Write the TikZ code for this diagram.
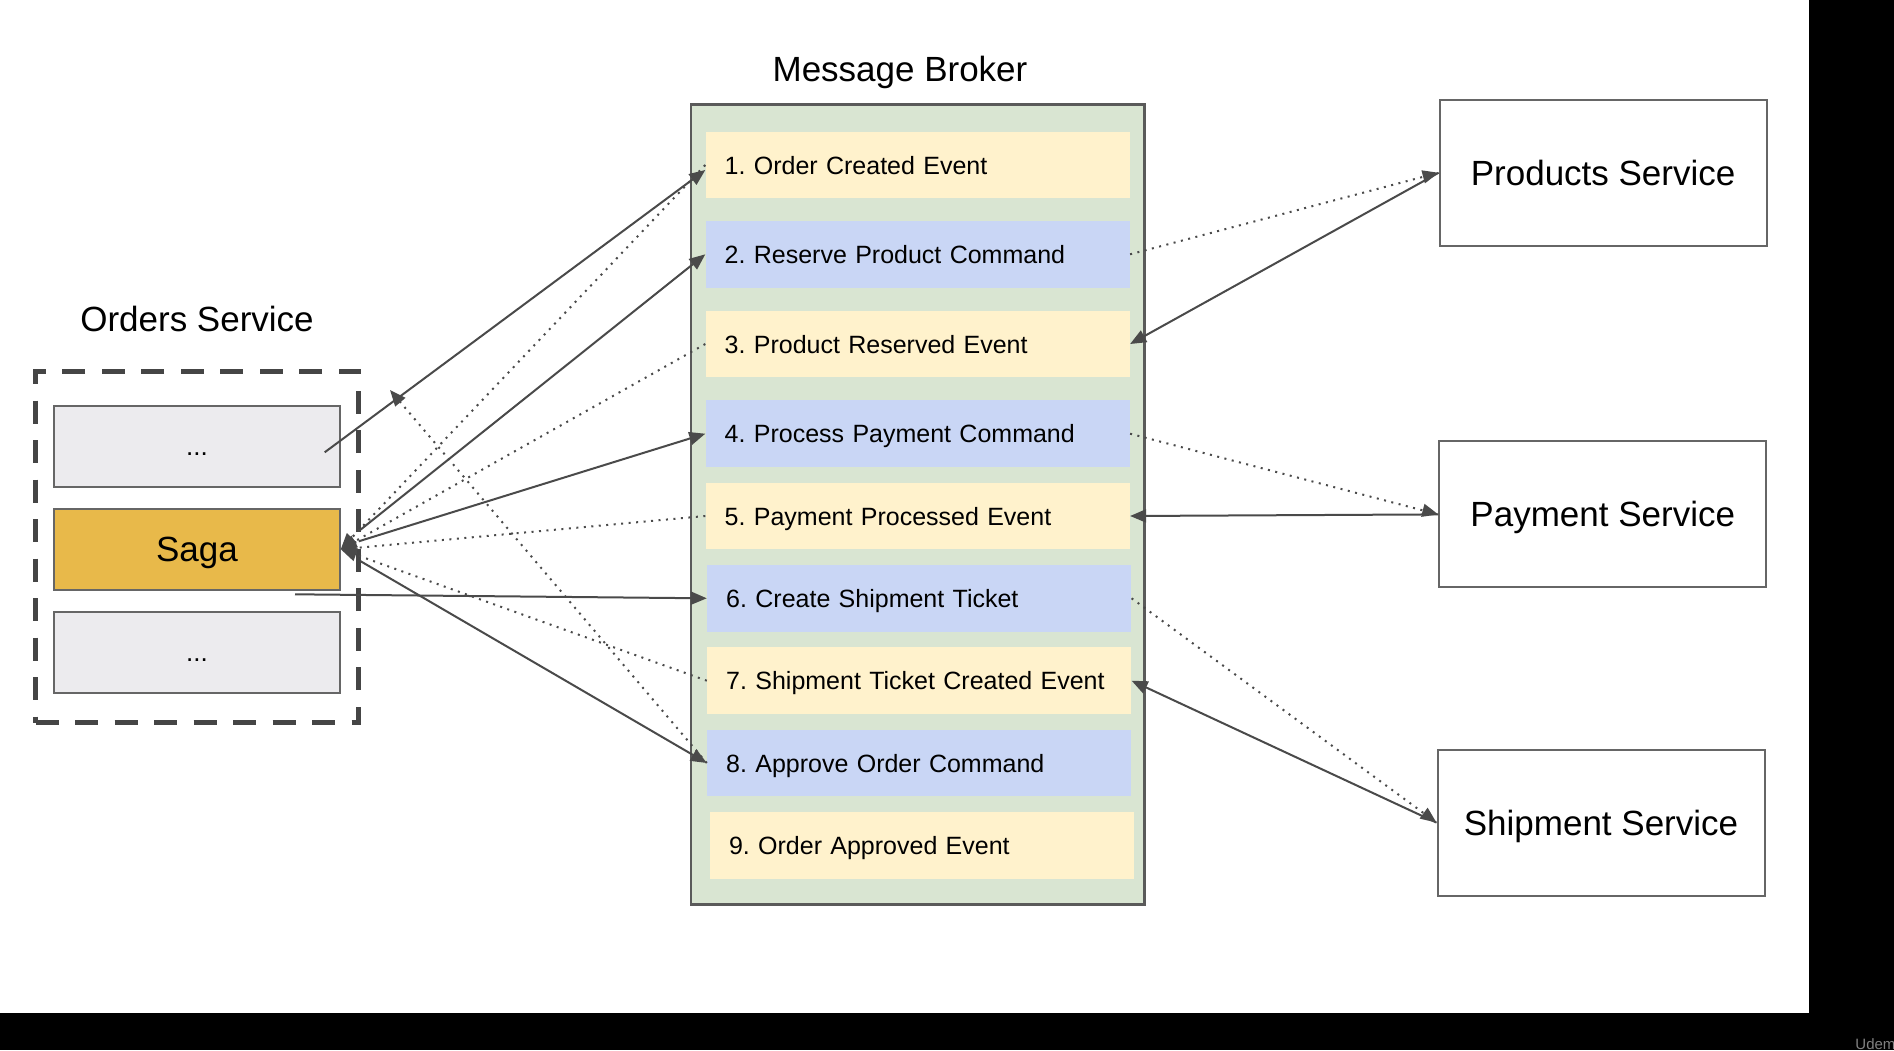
\documentclass[tikz,border=0pt]{standalone}
\usepackage{fontspec}
\setmainfont{Liberation Sans}
\usetikzlibrary{arrows.meta,calc}
\frenchspacing
\definecolor{brokerfill}{HTML}{D9E5D2}
\definecolor{brokerline}{HTML}{5A5A5A}
\definecolor{evfill}{HTML}{FFF2CC}
\definecolor{cmdfill}{HTML}{C9D6F5}
\definecolor{greyfill}{HTML}{ECEBEE}
\definecolor{sagafill}{HTML}{E8B94A}
\definecolor{linegrey}{HTML}{4A4A4A}
\definecolor{boxline}{HTML}{666666}
\definecolor{dashgrey}{HTML}{454545}
\begin{document}
\frenchspacing
\begin{tikzpicture}[x=0.5pt,y=-0.5pt,
  item/.style={minimum height=33.3pt, text width=193pt, inner xsep=9.5pt, inner ysep=0pt, align=left, text height=9pt, text depth=0pt, font=\fontsize{12.5}{15}\selectfont\frenchspacing},
  ev/.style={item, fill=evfill},
  cmd/.style={item, fill=cmdfill},
  svc/.style={draw=boxline, line width=1pt, fill=white, minimum width=163.5pt, minimum height=73pt, inner sep=0pt, text height=12.5pt, text depth=0pt, font=\fontsize{17.5}{21}\selectfont},
  inbox/.style={draw=boxline, line width=1pt, minimum width=142.75pt, minimum height=40.25pt, inner sep=0pt, text depth=0pt},
  dotsbox/.style={inbox, fill=greyfill, text height=9.3pt, font=\fontsize{13}{15}\selectfont},
  title/.style={anchor=base, font=\fontsize{17.5}{21}\selectfont},
  tipped/.style={-{Triangle[length=8pt,width=6.5pt]}},
  solidarrow/.style={tipped, draw=linegrey, line width=1pt},
  dotarrow/.style={tipped, draw=linegrey, line width=1pt, dash pattern=on 1pt off 2.75pt},
]
\useasboundingbox (0,0) rectangle (1894,1050);
\fill[white] (0,0) rectangle (1894,1050);

% titles
\node[title] (mbt) at (900,81.7) {Message Broker};
\node[title] (ost) at (197,331.7) {Orders Service};

% message broker
\node[draw=brokerline, fill=brokerfill, line width=1.25pt, minimum width=226.7pt, minimum height=400pt, inner sep=0pt] (broker) at (917.7,504.3) {};
\node[ev]  (i1) at (917.7,165)   {1. Order Created Event};
\node[cmd] (i2) at (917.7,254.3) {2. Reserve Product Command};
\node[ev]  (i3) at (917.7,344)   {3. Product Reserved Event};
\node[cmd] (i4) at (917.7,433.7) {4. Process Payment Command};
\node[ev]  (i5) at (917.7,516)   {5. Payment Processed Event};
\node[cmd] (i6) at (919.2,598.3) {6. Create Shipment Ticket};
\node[ev]  (i7) at (919.2,680.7) {7. Shipment Ticket Created Event};
\node[cmd] (i8) at (919.2,763)   {8. Approve Order Command};
\node[ev]  (i9) at (922,845.3)   {9. Order Approved Event};

% services
\node[svc] (prod) at (1603.1,172.75) {Products Service};
\node[svc] (pay)  at (1602.75,514.4) {Payment Service};
\node[svc] (ship) at (1601,822.6)    {Shipment Service};

% orders service
\node[draw=dashgrey, line width=2.5pt, dash pattern=on 11.5pt off 8.25pt, minimum width=161.5pt, minimum height=175.75pt, inner sep=0pt] (orders) at (197,546.75) {};
\node[dotsbox] (topbox) at (197,446.35) {...};
\node[inbox, fill=sagafill, text height=12.5pt, font=\fontsize{17.5}{21}\selectfont] (saga) at (197,549.3) {Saga};
\node[dotsbox] (botbox) at (197,652.5) {...};

% free ends
\coordinate (s1) at (324.7,452.3);
\coordinate (s6) at (295,594.3);
\coordinate (e8) at (390,390);

% left connectors
\draw[solidarrow] (s1) -- ($(i1.west)+(0,5)$);
\draw[solidarrow] ($(saga.east)+(19,-19)$) -- (i2.west);
\draw[solidarrow] ($(saga.east)+(18,-8)$) -- (i4.west);
\draw[solidarrow] (s6) -- (i6.west);
\draw[solidarrow] ($(saga.east)+(20,12)$) -- (i8.west);
\draw[dotarrow] (i1.west) -- (saga.east);
\draw[dotarrow] (i3.west) -- (saga.east);
\draw[dotarrow] (i5.west) -- (saga.east);
\draw[dotarrow] (i7.west) -- (saga.east);
\draw[dotarrow] (i8.west) -- (e8);

% right connectors
\draw[dotarrow] (i2.east) -- (prod.west);
\draw[solidarrow] (prod.west) -- (i3.east);
\draw[dotarrow] (i4.east) -- (pay.west);
\draw[solidarrow] (pay.west) -- (i5.east);
\draw[dotarrow] (i6.east) -- (ship.west);
\draw[solidarrow] (ship.west) -- (i7.east);

% video frame
\fill[black] (1809,0) rectangle (1894,1050);
\fill[black] (0,1013) rectangle (1894,1050);
\begin{scope}
\clip (0,0) rectangle (1894,1050);
\node[anchor=base west, text=gray, inner sep=0pt, font=\fontsize{7.5}{9}\selectfont] (wm) at (1855,1049) {Udem};
\end{scope}
\end{tikzpicture}
\end{document}
